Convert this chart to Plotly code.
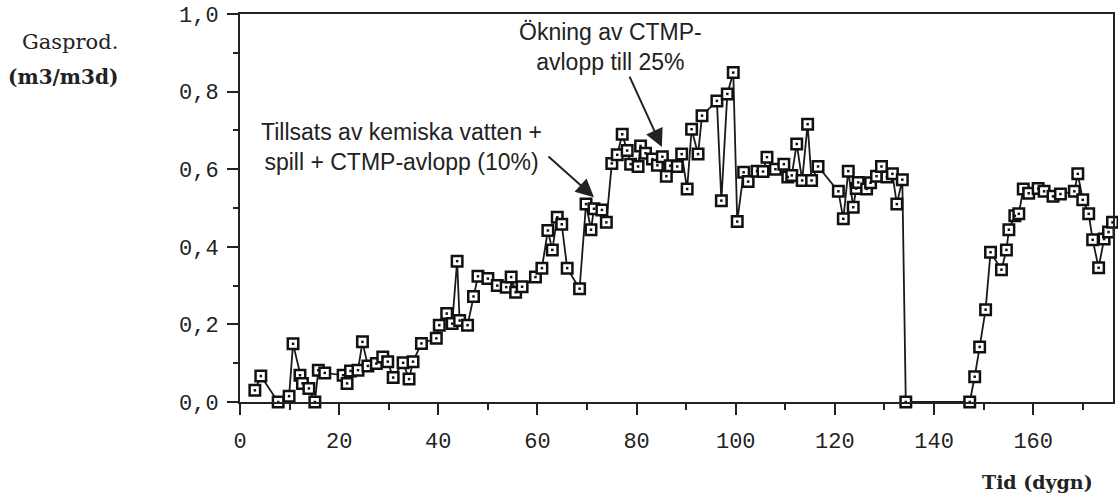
import plotly.graph_objects as go

# Day (Tid, dygn) and gas production (m3/m3d)
days = [3.0, 4.2, 7.7, 9.9, 10.7, 12.1, 12.6, 13.9, 15.1, 15.8, 17.1,
        20.8, 21.6, 22.3, 23.8, 24.7, 25.8, 27.5, 28.8, 29.8, 30.9, 32.9,
        34.1, 34.9, 36.6, 39.6, 40.2, 41.7, 42.8, 43.8, 44.3, 45.9, 47.1,
        48.0, 50.0, 51.9, 53.7, 54.7, 55.6, 56.9, 59.6, 60.9, 62.1, 63.0,
        64.0, 64.9, 66.0, 68.5, 69.8, 70.8, 71.4, 73.0, 73.9, 75.0, 76.1,
        77.1, 78.1, 78.8, 80.3, 80.8, 81.8, 83.2, 84.2, 85.2, 86.0, 86.8,
        88.2, 89.1, 90.2, 91.1, 92.4, 93.2, 96.2, 97.1, 98.3, 99.5, 100.3,
        101.6, 102.5, 104.3, 105.5, 106.3, 108.0, 109.7, 110.5, 111.3, 112.3,
        113.4, 114.5, 115.3, 116.6, 120.7, 121.7, 122.7, 123.7, 124.3, 124.7,
        126.4, 127.2, 128.4, 129.4, 130.5, 131.6, 132.5, 133.6, 134.3,
        147.2, 148.2, 149.2, 150.4, 151.4, 153.6, 154.6, 155.1, 156.3, 157.1,
        158.0, 159.1, 161.0, 162.2, 164.0, 165.5, 168.3, 169.0, 170.0, 171.2,
        172.0, 173.2, 174.3, 175.2, 176.0]
gasprod = [0.030, 0.067, 0.000, 0.015, 0.150, 0.069, 0.048, 0.035, 0.000, 0.082, 0.075,
           0.069, 0.048, 0.080, 0.082, 0.155, 0.093, 0.099, 0.116, 0.104, 0.063, 0.101,
           0.059, 0.104, 0.151, 0.164, 0.198, 0.228, 0.202, 0.363, 0.210, 0.198, 0.272,
           0.324, 0.318, 0.300, 0.296, 0.322, 0.283, 0.297, 0.322, 0.345, 0.442, 0.392,
           0.476, 0.458, 0.345, 0.292, 0.510, 0.444, 0.498, 0.495, 0.463, 0.615, 0.637,
           0.690, 0.648, 0.613, 0.607, 0.660, 0.641, 0.626, 0.610, 0.632, 0.582, 0.609,
           0.607, 0.639, 0.549, 0.703, 0.639, 0.738, 0.776, 0.519, 0.794, 0.849, 0.465,
           0.592, 0.568, 0.595, 0.594, 0.631, 0.600, 0.613, 0.580, 0.584, 0.665,
           0.571, 0.716, 0.571, 0.607, 0.543, 0.472, 0.595, 0.502, 0.550, 0.566,
           0.549, 0.565, 0.582, 0.607, 0.580, 0.588, 0.510, 0.573, 0.000,
           0.000, 0.065, 0.142, 0.238, 0.386, 0.341, 0.392, 0.444, 0.480, 0.485,
           0.549, 0.538, 0.550, 0.543, 0.530, 0.536, 0.543, 0.588, 0.521, 0.485,
           0.418, 0.346, 0.420, 0.438, 0.463]

x_tickvals = [0, 20, 40, 60, 80, 100, 120, 140, 160]
x_ticktext = ["0", "20", "40", "60", "80", "100", "120", "140", "160"]
y_tickvals = [0.0, 0.2, 0.4, 0.6, 0.8, 1.0]
y_ticktext = ["0,0", "0,2", "0,4", "0,6", "0,8", "1,0"]

fig = go.Figure()
fig.add_trace(go.Scatter(
    x=days, y=gasprod, mode="lines+markers",
    line=dict(color="#1a1a1a", width=1.8),
    marker=dict(symbol="square", size=10.5, color="white",
                line=dict(color="#111111", width=2.5)),
    cliponaxis=False, showlegend=False, hoverinfo="skip"))
fig.add_trace(go.Scatter(
    x=days, y=gasprod, mode="markers",
    marker=dict(symbol="square", size=2.5, color="#111111"),
    cliponaxis=False, showlegend=False, hoverinfo="skip"))

axis_common = dict(showline=True, linecolor="#222222", linewidth=2, mirror=True,
                   ticks="outside", tickcolor="#222222", tickwidth=2, ticklen=11,
                   showgrid=False, zeroline=False, ticklabeloverflow="allow",
                   tickfont=dict(family="Liberation Mono", size=22, color="#222222"))

fig.update_xaxes(range=[0, 176.1], tickvals=x_tickvals, ticktext=x_ticktext,
                 minor=dict(ticks="outside", dtick=10, tick0=0, ticklen=6,
                            tickwidth=2, tickcolor="#222222"),
                 ticklabelstandoff=7, **axis_common)
fig.update_yaxes(range=[0, 1.0], tickvals=y_tickvals, ticktext=y_ticktext,
                 minor=dict(ticks="outside", dtick=0.1, tick0=0, ticklen=5,
                            tickwidth=2, tickcolor="#222222"),
                 ticklabelstandoff=4, **axis_common)

ann_font = dict(family="Liberation Sans", size=23, color="#222222")
serif = "DejaVu Serif"
fig.update_layout(
    width=1118, height=500,
    margin=dict(l=240, r=3, t=14, b=98),
    paper_bgcolor="white", plot_bgcolor="white",
    annotations=[
        dict(text="Gasprod.", xref="paper", yref="paper", x=-0.137, y=0.928,
             xanchor="right", yanchor="middle", showarrow=False,
             font=dict(family=serif, size=21, color="#222222")),
        dict(text="<b>(m3/m3d)</b>", xref="paper", yref="paper", x=-0.137, y=0.838,
             xanchor="right", yanchor="middle", showarrow=False,
             font=dict(family=serif, size=20, color="#222222")),
        dict(text="<b>Tid (dygn)</b>", xref="paper", yref="paper", x=0.979, y=-0.207,
             xanchor="right", yanchor="middle", showarrow=False,
             font=dict(family=serif, size=19, color="#222222")),
        dict(text="Tillsats av kemiska vatten +<br>spill + CTMP-avlopp (10%)",
             x=32.6, y=0.656, xref="x", yref="y", showarrow=False,
             align="center", font=ann_font),
        dict(text="Ökning av CTMP-<br>avlopp till 25%",
             x=74.7, y=0.914, xref="x", yref="y", showarrow=False,
             align="center", font=ann_font),
        dict(text="", x=71.4, y=0.528, xref="x", yref="y", ax=-47, ay=-42,
             showarrow=True, arrowhead=2, arrowsize=1.8, arrowwidth=2,
             arrowcolor="#222222"),
        dict(text="", x=85.1, y=0.657, xref="x", yref="y", ax=-33, ay=-72,
             showarrow=True, arrowhead=2, arrowsize=1.8, arrowwidth=2,
             arrowcolor="#222222"),
    ])

fig.write_html("out.html", config={"displayModeBar": False},
               post_script="document.body.style.margin='0';")
